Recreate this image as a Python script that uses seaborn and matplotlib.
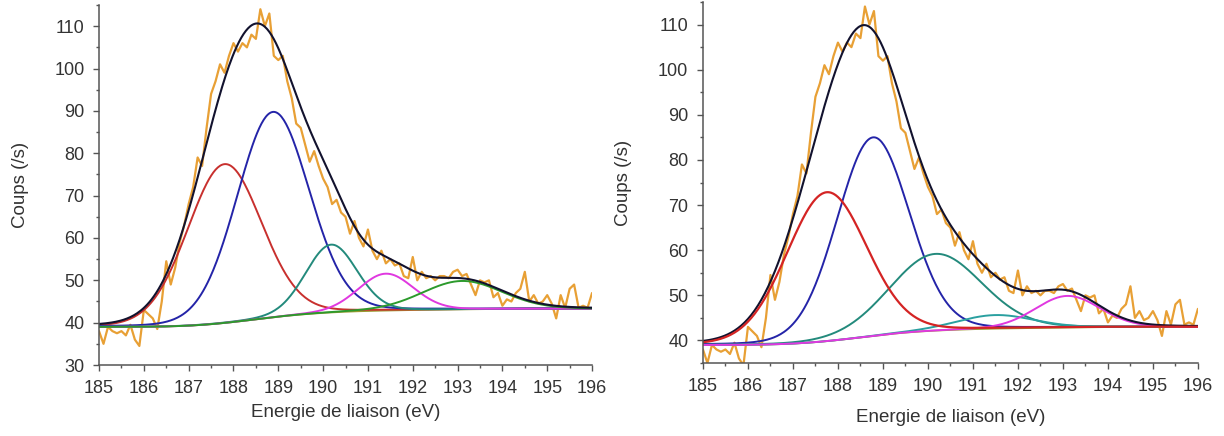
import matplotlib
matplotlib.use("Agg")
import matplotlib.pyplot as plt
from matplotlib.ticker import MultipleLocator
import seaborn as sns
import numpy as np
import pandas as pd

# measured spectrum (same in both panels), 0.1 eV step
energie = np.round(np.arange(185.0, 196.05, 0.1), 1)
coups = [38, 35, 39, 38, 37.5, 38, 37, 39.5, 36, 34.5,
         43, 42, 41, 38.5, 45, 54.5, 49, 53, 59, 63,
         68, 72, 79, 77, 86, 94, 97, 101, 99, 103,
         106, 104, 106, 105, 108, 107, 114, 110, 113, 103,
         102, 103, 97, 93, 87, 86, 82, 78, 80.5, 77,
         74, 72, 68, 69, 66, 65, 61, 64, 60, 58,
         62, 57, 55, 57, 54, 55, 53.5, 54, 51, 50.5,
         55.5, 50, 52, 50.5, 51, 50, 51, 51, 50.5, 52,
         52.5, 51, 51.5, 49, 46.5, 50, 49.5, 50, 46, 47,
         44, 45.5, 45, 47, 48, 52, 45, 46.5, 44.5, 45,
         46.5, 44.5, 41, 46.5, 43.5, 48, 49, 43.5, 44, 43.5, 47]

# fitted components: centre (eV), height above background, FWHM (eV)
gauche_centres = [187.8, 188.88, 190.18, 191.4, 193.1]
gauche_hauteurs = [37.5, 48.5, 16.0, 8.7, 6.7]
gauche_fwhm = [1.95, 1.9, 1.35, 1.45, 2.1]
gauche_fond = (39.0, 43.3)

droite_centres = [187.75, 188.78, 190.17, 191.5, 193.1]
droite_hauteurs = [33.0, 44.0, 17.0, 3.0, 7.0]
droite_fwhm = [2.1, 1.9, 2.4, 2.0, 1.7]
droite_fond = (39.0, 43.0)

gauche_couleurs = ['#c8302e', '#2424a8', '#238a7c', '#e038e0', '#2c9a2c']
droite_couleurs = ['#d42424', '#2424a8', '#238a7c', '#2aa0a0', '#e038e0']

sns.set_theme(style="ticks")
plt.rcParams['font.family'] = ['Liberation Sans', 'DejaVu Sans']


def pic(x, c, h, w, eta=0.08):
    s = w / 2.3548
    g = np.exp(-(x - c) ** 2 / (2 * s ** 2))
    lo = 1.0 / (1.0 + ((x - c) / (w / 2)) ** 2)
    return h * ((1 - eta) * g + eta * lo)


def panneau(ax, centres, hauteurs, fwhm, fond, couleurs, ylim, yticks, rouge_dessus, xlab_y):
    x = np.linspace(185, 196, 441)
    pics = [pic(x, c, h, w) for c, h, w in zip(centres, hauteurs, fwhm)]
    total = np.sum(pics, axis=0)
    bg = fond[0] + (fond[1] - fond[0]) * np.cumsum(total) / np.sum(total)
    df = pd.DataFrame({'x': energie, 'y': coups})
    sns.lineplot(data=df, x='x', y='y', ax=ax, color='#e8a035', lw=1.6, sort=False)
    sns.lineplot(x=x, y=bg, ax=ax, color='#9a9a30', lw=1.3)
    ordre = list(range(1, len(pics))) if rouge_dessus else list(range(len(pics)))
    for i in ordre:
        sns.lineplot(x=x, y=bg + pics[i], ax=ax, color=couleurs[i], lw=1.4)
    sns.lineplot(x=x, y=bg + total, ax=ax, color='#12122e', lw=1.5)
    if rouge_dessus:
        sns.lineplot(x=x, y=bg + pics[0], ax=ax, color=couleurs[0], lw=1.6)
    ax.set_xlim(185, 196)
    ax.set_ylim(*ylim)
    ax.set_xticks(range(185, 197))
    ax.set_yticks(yticks)
    ax.xaxis.set_minor_locator(MultipleLocator(0.5))
    ax.yaxis.set_minor_locator(MultipleLocator(5))
    ax.tick_params(which='major', length=4, width=1, color='#555555',
                   labelsize=13, labelcolor='#333333', pad=6.5)
    ax.tick_params(which='minor', length=2.5, width=1, color='#555555')
    for s in ('top', 'right'):
        ax.spines[s].set_visible(False)
    for s in ('left', 'bottom'):
        ax.spines[s].set_color('#555555')
        ax.spines[s].set_linewidth(1.1)
    ax.set_xlabel('Energie de liaison (eV)', fontsize=13.5, color='#333333', va='center')
    ax.set_ylabel('Coups (/s)', fontsize=13.5, color='#333333', va='center')
    ax.xaxis.set_label_coords(0.5, xlab_y)
    ax.yaxis.set_label_coords(-0.16, 0.5)


fig = plt.figure(figsize=(12.24, 4.36), dpi=100)
ax1 = fig.add_axes([0.0809, 0.1628, 0.4028, 0.8257])
ax2 = fig.add_axes([0.5743, 0.1674, 0.4044, 0.828])

panneau(ax1, gauche_centres, gauche_hauteurs, gauche_fwhm, gauche_fond, gauche_couleurs,
        (30, 115), range(30, 111, 10), False, -0.131)
panneau(ax2, droite_centres, droite_hauteurs, droite_fwhm, droite_fond, droite_couleurs,
        (35, 115), range(40, 111, 10), True, -0.15)

fig.savefig('out.png', dpi=100)
plt.close()
